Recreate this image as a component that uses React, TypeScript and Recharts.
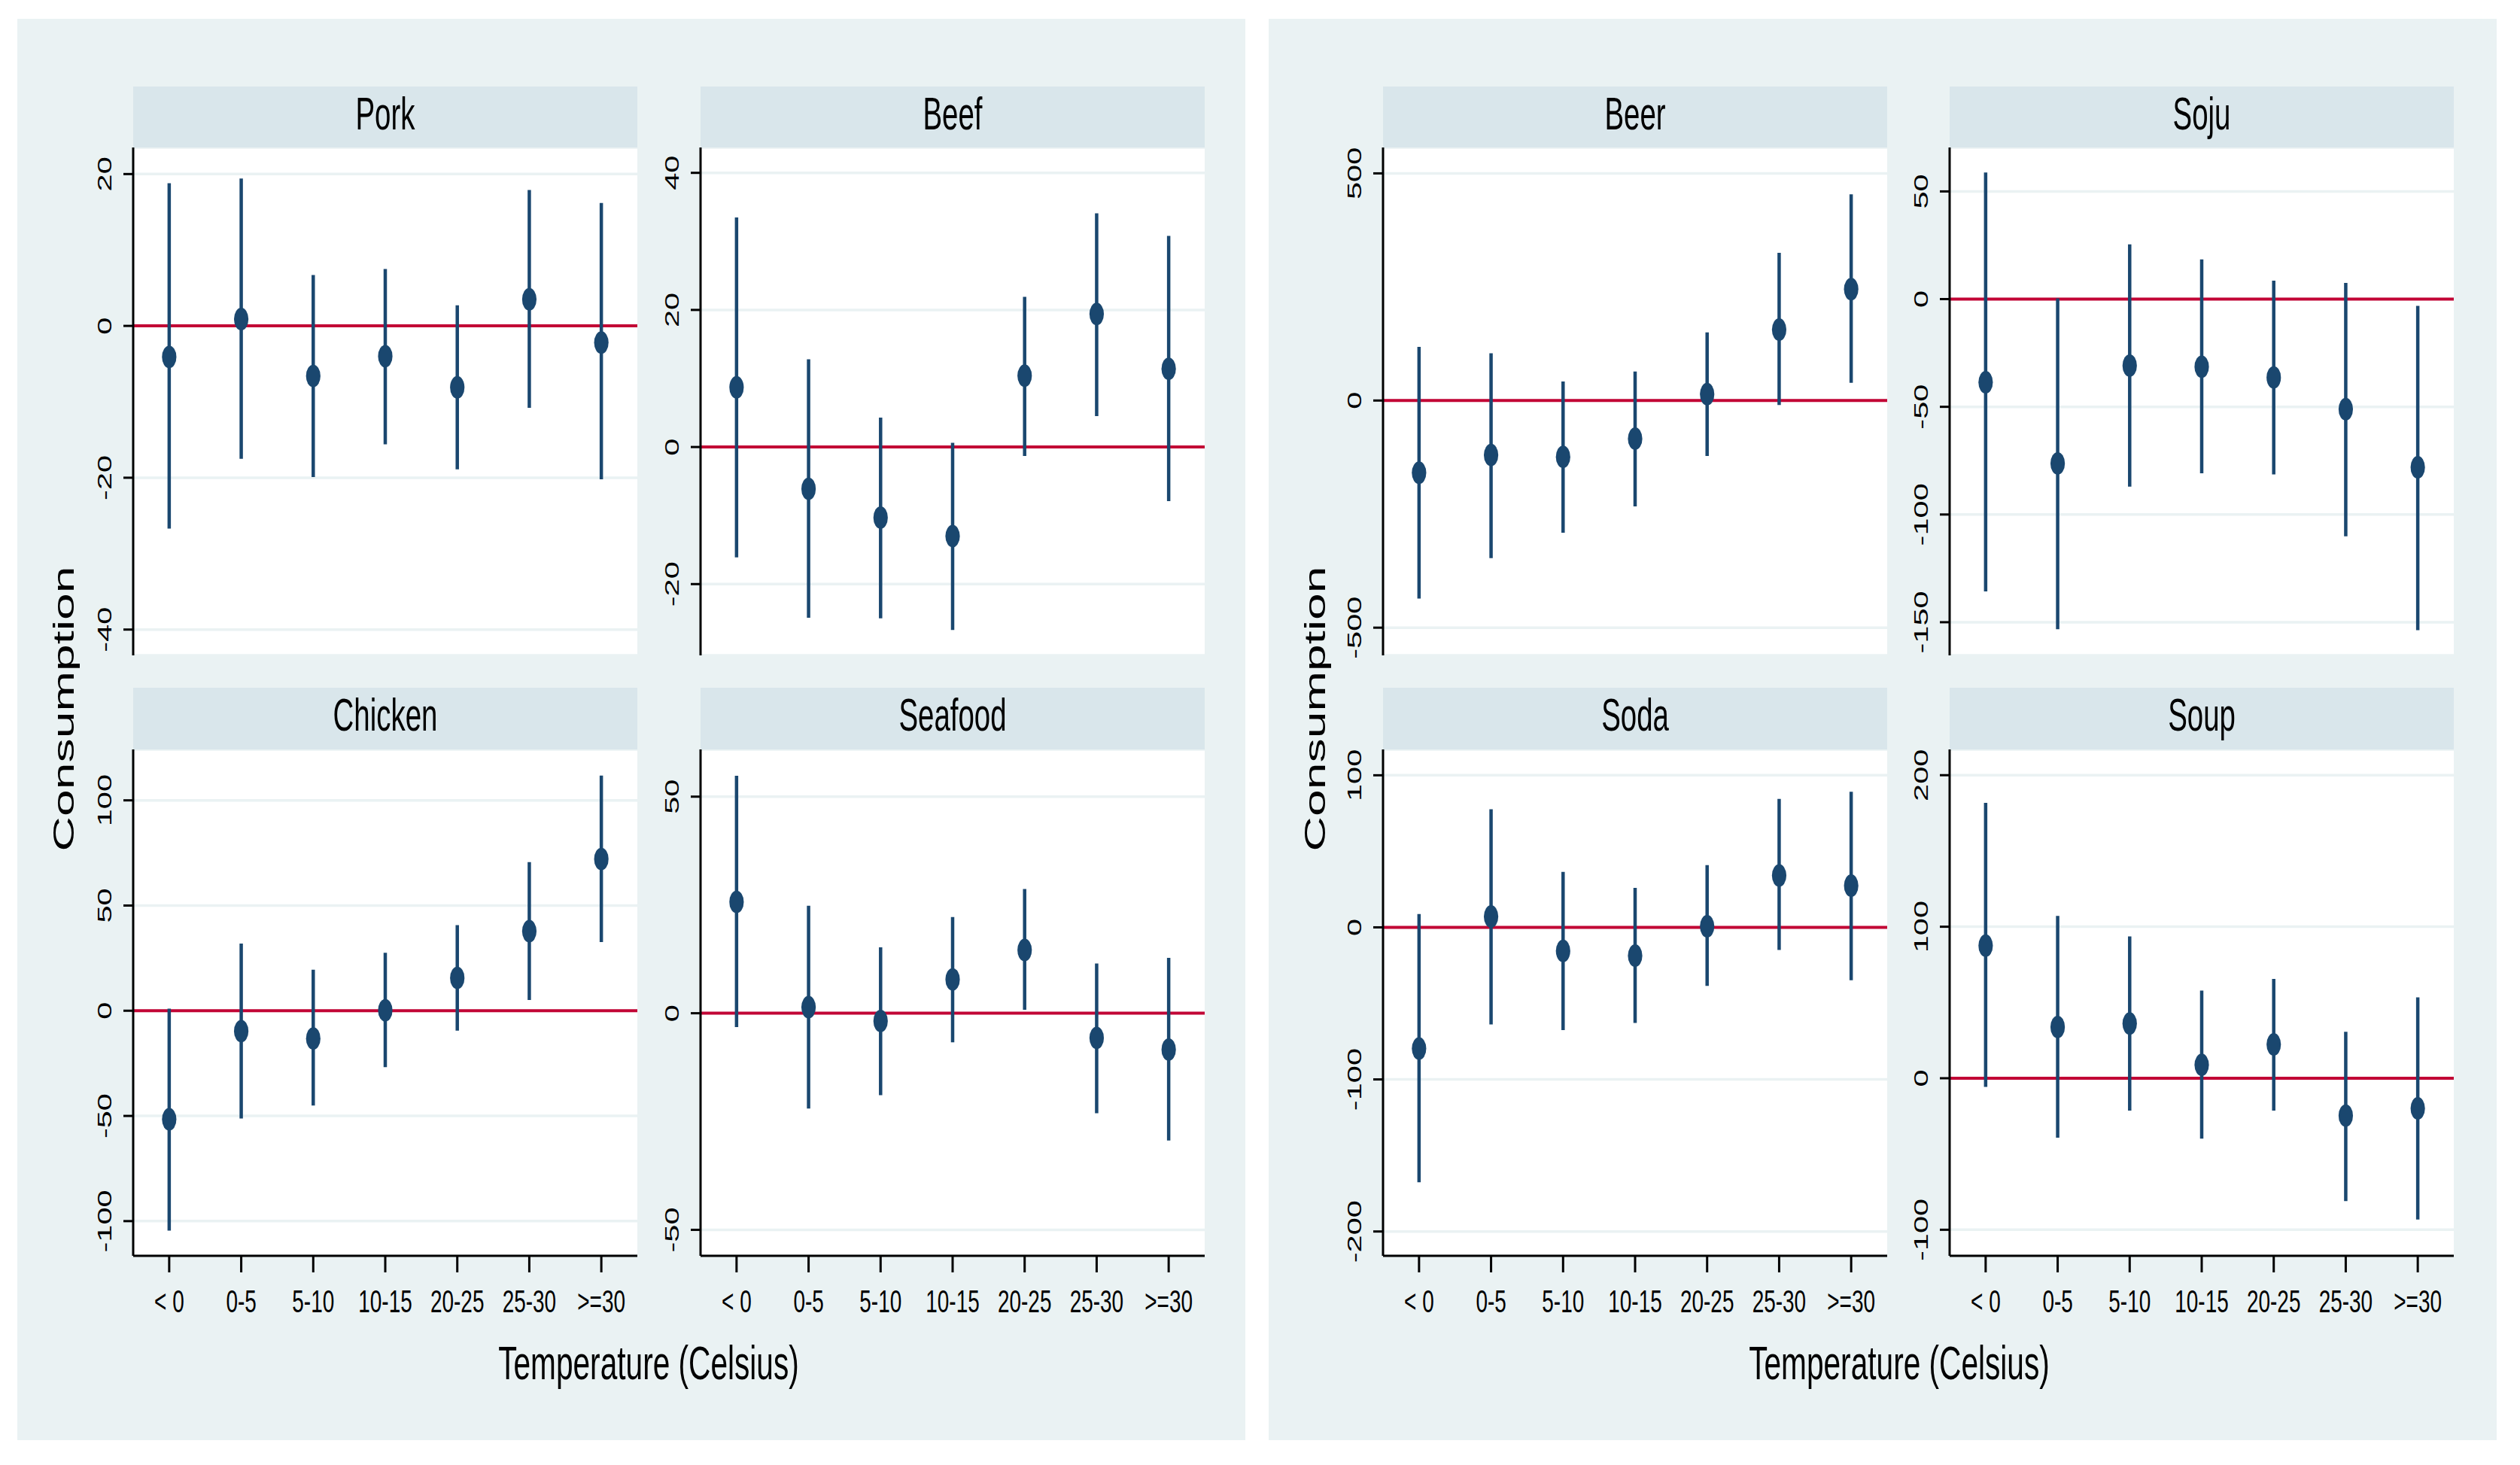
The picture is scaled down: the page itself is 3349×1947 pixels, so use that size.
import React from "react";
import { ScatterChart, Scatter, XAxis, YAxis, CartesianGrid, ReferenceLine, ErrorBar } from "recharts";

// temperature bins (no 15-20 bin in the source)
const tempBins = ["< 0", "0-5", "5-10", "10-15", "20-25", "25-30", ">=30"];

const porkEst = [-4.1, 0.9, -6.6, -4.0, -8.1, 3.5, -2.2];
const porkLo = [-26.7, -17.5, -19.9, -15.6, -18.9, -10.8, -20.2];
const porkHi = [18.8, 19.4, 6.7, 7.5, 2.7, 17.9, 16.2];

const beefEst = [8.7, -6.1, -10.3, -13.0, 10.4, 19.4, 11.4];
const beefLo = [-16.1, -24.9, -25.0, -26.7, -1.3, 4.5, -7.9];
const beefHi = [33.5, 12.8, 4.3, 0.6, 21.9, 34.1, 30.8];

const chickenEst = [-51.6, -9.7, -13.2, 0.2, 15.6, 37.8, 72.1];
const chickenLo = [-104.5, -51.2, -45.1, -26.8, -9.5, 5.1, 32.6];
const chickenHi = [1.0, 31.9, 19.5, 27.5, 40.7, 70.6, 111.8];

const seafoodEst = [25.7, 1.4, -1.8, 7.8, 14.6, -5.7, -8.4];
const seafoodLo = [-3.2, -22.0, -18.9, -6.7, 0.8, -23.1, -29.4];
const seafoodHi = [54.8, 24.8, 15.2, 22.2, 28.7, 11.5, 12.8];

const beerEst = [-159, -120, -124, -84, 14, 156, 245];
const beerLo = [-436, -347, -291, -233, -122, -10, 39];
const beerHi = [118, 104, 42, 64, 150, 325, 454];

const sojuEst = [-38.6, -76.3, -30.9, -31.4, -36.4, -51.1, -78.1];
const sojuLo = [-135.7, -153.3, -87.1, -80.9, -81.4, -110.1, -153.7];
const sojuHi = [58.8, 0.4, 25.4, 18.4, 8.6, 7.5, -3.1];

const sodaEst = [-79.7, 7.1, -15.5, -18.6, 0.7, 34.1, 27.4];
const sodaLo = [-167.6, -63.9, -67.6, -62.8, -38.5, -14.9, -34.8];
const sodaHi = [8.8, 77.7, 36.5, 26.0, 40.9, 84.5, 89.2];

const soupEst = [87.5, 33.8, 36.1, 8.8, 22.3, -24.7, -19.9];
const soupLo = [-5.7, -39.2, -21.3, -39.9, -21.3, -81.1, -93.2];
const soupHi = [181.8, 107.1, 93.6, 57.8, 65.5, 30.7, 53.4];

const NAVY = "#1A476F";
const RED = "#C20535";
const BG = "#EAF2F3";
const STRIP = "#D9E6EB";
const FONT = "'Liberation Sans', Arial, sans-serif";

const PLOT_W = 670;
const YW = 130;
const XH = 110;
const PAD = 24; // room below top-row plots so long tick labels are not clipped

const rows = [
  { stripTop: 115, stripH: 81, plotTop: 196, plotH: 675, bottom: false },
  { stripTop: 914, stripH: 82, plotTop: 996, plotH: 673, bottom: true },
];

const panels = [
  { title: "Pork", est: porkEst, lo: porkLo, hi: porkHi, domain: [-43.4, 23.5], ticks: [-40, -20, 0, 20], left: 177, row: 0 },
  { title: "Beef", est: beefEst, lo: beefLo, hi: beefHi, domain: [-30.4, 43.7], ticks: [-20, 0, 20, 40], left: 931, row: 0 },
  { title: "Chicken", est: chickenEst, lo: chickenLo, hi: chickenHi, domain: [-116.5, 124.2], ticks: [-100, -50, 0, 50, 100], left: 177, row: 1 },
  { title: "Seafood", est: seafoodEst, lo: seafoodLo, hi: seafoodHi, domain: [-56, 60.9], ticks: [-50, 0, 50], left: 931, row: 1 },
  { title: "Beer", est: beerEst, lo: beerLo, hi: beerHi, domain: [-561, 557], ticks: [-500, 0, 500], left: 1838, row: 0 },
  { title: "Soju", est: sojuEst, lo: sojuLo, hi: sojuHi, domain: [-165.4, 70.4], ticks: [-150, -100, -50, 0, 50], left: 2591, row: 0 },
  { title: "Soda", est: sodaEst, lo: sodaLo, hi: sodaHi, domain: [-216, 117], ticks: [-200, -100, 0, 100], left: 1838, row: 1 },
  { title: "Soup", est: soupEst, lo: soupLo, hi: soupHi, domain: [-117.2, 217], ticks: [-100, 0, 100, 200], left: 2591, row: 1 },
];

const groups = [
  { bgLeft: 23, titleX: 862, yTitleX: 98 },
  { bgLeft: 1686, titleX: 2524, yTitleX: 1761 },
];

const XTick = (props: any) => {
  const { x, y, payload } = props;
  return (
    <text transform={`translate(${x},${y + 53}) scale(0.65,1)`} textAnchor="middle" fontFamily={FONT} fontSize={43} fill="#000">
      {tempBins[payload.value]}
    </text>
  );
};

const YTick = (props: any) => {
  const { x, y, payload } = props;
  return (
    <text transform={`translate(${x - 16},${y}) rotate(-90) scale(1.6,1)`} textAnchor="middle" fontFamily={FONT} fontSize={26} fill="#000">
      {String(payload.value)}
    </text>
  );
};

const Marker = (props: any) => <ellipse cx={props.cx} cy={props.cy} rx={9.6} ry={15} fill={NAVY} />;

function Panel({ p }: { p: any }) {
  const r = rows[p.row];
  const data = p.est.map((v: number, i: number) => ({ x: i, y: v, err: [v - p.lo[i], p.hi[i] - v] }));
  const padBottom = r.bottom ? 0 : PAD;
  return (
    <div style={{ position: "absolute", left: p.left - YW, top: r.plotTop }}>
      <ScatterChart
        width={YW + PLOT_W}
        height={r.plotH + (r.bottom ? XH : 0) + padBottom}
        margin={{ top: 0, right: 0, bottom: padBottom, left: 0 }}
      >
        <CartesianGrid horizontal vertical={false} fill="#fff" stroke={BG} strokeWidth={3.5} />
        <XAxis
          type="number"
          dataKey="x"
          domain={[-0.5, 6.5]}
          ticks={[0, 1, 2, 3, 4, 5, 6]}
          interval={0}
          allowDataOverflow
          hide={!r.bottom}
          height={XH}
          axisLine={{ stroke: "#000", strokeWidth: 3 }}
          tickLine={{ stroke: "#000", strokeWidth: 3 }}
          tickSize={22}
          tickMargin={0}
          tick={<XTick />}
        />
        <YAxis
          type="number"
          dataKey="y"
          domain={p.domain}
          ticks={p.ticks}
          interval={0}
          allowDataOverflow
          width={YW}
          axisLine={{ stroke: "#000", strokeWidth: 3 }}
          tickLine={{ stroke: "#000", strokeWidth: 3 }}
          tickSize={13}
          tickMargin={0}
          tick={<YTick />}
        />
        <ReferenceLine y={0} stroke={RED} strokeWidth={4} />
        <Scatter data={data} fill={NAVY} shape={Marker} isAnimationActive={false}>
          <ErrorBar dataKey="err" direction="y" width={0} stroke={NAVY} strokeWidth={4.5} />
        </Scatter>
      </ScatterChart>
    </div>
  );
}

export default function App() {
  return (
    <div style={{ position: "absolute", left: 0, top: 0, width: 3349, height: 1947, background: "#fff", overflow: "hidden" }}>
      <svg width={3349} height={1947} style={{ position: "absolute", left: 0, top: 0 }}>
        {groups.map((g, i) => (
          <g key={i}>
            <rect x={g.bgLeft} y={25} width={1632} height={1889} fill={BG} />
            <text transform={`translate(${g.titleX},1833) scale(0.645,1)`} textAnchor="middle" fontFamily={FONT} fontSize={63} fill="#000">
              Temperature (Celsius)
            </text>
            <text transform={`translate(${g.yTitleX},942) rotate(-90) scale(1.65,1)`} textAnchor="middle" fontFamily={FONT} fontSize={39} fill="#000">
              Consumption
            </text>
          </g>
        ))}
        {panels.map((p) => {
          const r = rows[p.row];
          return (
            <g key={p.title}>
              <rect x={p.left} y={r.stripTop} width={PLOT_W} height={r.stripH} fill={STRIP} />
              <text transform={`translate(${p.left + PLOT_W / 2},${r.stripTop + 57}) scale(0.63,1)`} textAnchor="middle" fontFamily={FONT} fontSize={61} fill="#000">
                {p.title}
              </text>
            </g>
          );
        })}
      </svg>
      {panels.map((p) => (
        <Panel key={p.title} p={p} />
      ))}
    </div>
  );
}
